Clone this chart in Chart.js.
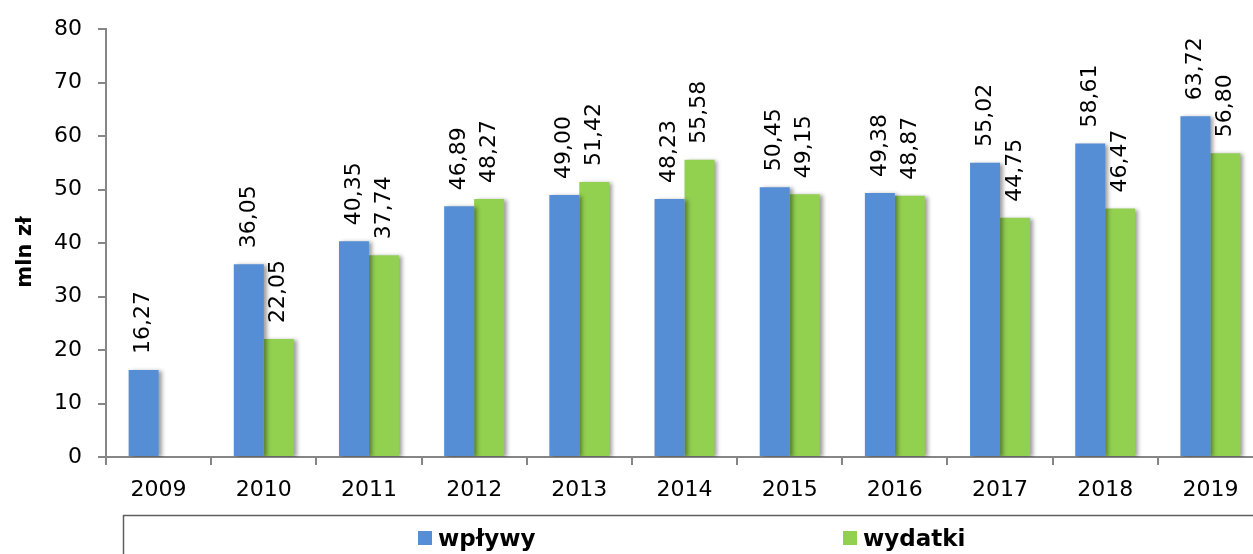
<!DOCTYPE html>
<html>
<head>
<meta charset="utf-8">
<script src="https://cdn.jsdelivr.net/npm/chart.js@4.4.0/dist/chart.umd.min.js"></script>
<style>
  html, body { margin: 0; padding: 0; overflow: hidden; background: #fff; }
  #wrap { width: 1253px; height: 554px; overflow: hidden; }
  canvas { display: block; }
</style>
</head>
<body>
<div id="wrap"><canvas id="c" width="1272" height="554"></canvas></div>
<script>
// Roczne wpływy i wydatki (mln zł)
const years   = ['2009', '2010', '2011', '2012', '2013', '2014', '2015', '2016', '2017', '2018', '2019'];
const wplywy  = [16.27, 36.05, 40.35, 46.89, 49.00, 48.23, 50.45, 49.38, 55.02, 58.61, 63.72];
const wydatki = [null, 22.05, 37.74, 48.27, 51.42, 55.58, 49.15, 48.87, 44.75, 46.47, 56.80];
const seriesNames = ['wpływy', 'wydatki'];
const yMin = 0, yMax = 80, yStep = 10;
const yTitle = 'mln zł';

const FONT = '"DejaVu Sans", Verdana, sans-serif';
const BLUE = '#558ED5';
const GREEN = '#92D050';
const AXIS = '#868686';

const fmt = v => v.toFixed(2).replace('.', ',');

// soft drop shadow behind each bar
const barShadow = {
  id: 'barShadow',
  beforeDatasetDraw(chart) {
    const c = chart.ctx;
    c.save();
    c.shadowColor = 'rgba(0,0,0,0.38)';
    c.shadowBlur = 4;
    c.shadowOffsetX = 3;
    c.shadowOffsetY = 1;
  },
  afterDatasetDraw(chart) { chart.ctx.restore(); }
};

// vertical value labels above the bars
const valueLabels = {
  id: 'valueLabels',
  afterDatasetsDraw(chart) {
    const ctx = chart.ctx;
    chart.data.datasets.forEach((ds, i) => {
      const meta = chart.getDatasetMeta(i);
      meta.data.forEach((bar, j) => {
        const v = ds.data[j];
        if (v == null) return;
        ctx.save();
        ctx.translate(bar.x, bar.y - 16);
        ctx.rotate(-Math.PI / 2);
        ctx.font = '22px ' + FONT;
        ctx.fillStyle = '#000';
        ctx.textAlign = 'left';
        ctx.textBaseline = 'middle';
        ctx.fillText(fmt(v), 0, 0);
        ctx.restore();
      });
    });
  }
};

// rotated value-axis title
const axisTitle = {
  id: 'axisTitle',
  afterDraw(chart) {
    const ctx = chart.ctx;
    ctx.save();
    ctx.translate(25.5, 252);
    ctx.rotate(-Math.PI / 2);
    ctx.font = 'bold 21px ' + FONT;
    ctx.fillStyle = '#000';
    ctx.textAlign = 'center';
    ctx.textBaseline = 'middle';
    ctx.fillText(yTitle, 0, 0);
    ctx.restore();
  }
};

// framed legend along the bottom edge
const boxLegend = {
  id: 'boxLegend',
  afterDraw(chart) {
    const ctx = chart.ctx;
    const top = 515.5, left = 123.5;
    ctx.save();
    ctx.strokeStyle = '#5f5f5f';
    ctx.lineWidth = 1.5;
    ctx.beginPath();
    ctx.moveTo(left, chart.height + 2);
    ctx.lineTo(left, top);
    ctx.lineTo(chart.width + 2, top);
    ctx.stroke();
    const xs = [418, 843];
    ctx.font = 'bold 23px ' + FONT;
    ctx.textBaseline = 'alphabetic';
    ctx.textAlign = 'left';
    chart.data.datasets.forEach((ds, i) => {
      ctx.fillStyle = ds.backgroundColor;
      ctx.fillRect(xs[i], 531, 14, 14);
      ctx.fillStyle = '#000';
      ctx.fillText(ds.label, xs[i] + 20, 546);
    });
    ctx.restore();
  }
};

new Chart(document.getElementById('c'), {
  type: 'bar',
  data: {
    labels: years,
    datasets: [
      { label: seriesNames[0], data: wplywy, backgroundColor: BLUE },
      { label: seriesNames[1], data: wydatki, backgroundColor: GREEN }
    ]
  },
  options: {
    responsive: false,
    animation: false,
    devicePixelRatio: 1,
    datasets: { bar: { categoryPercentage: 0.57, barPercentage: 1.0 } },
    layout: { padding: { left: 0, right: 9, top: 26, bottom: 0 } },
    plugins: {
      legend: { display: false },
      tooltip: { enabled: false }
    },
    scales: {
      x: {
        afterFit(scale) { scale.height = 97; },
        ticks: { color: '#000', font: { family: FONT, size: 22 }, padding: 12, maxRotation: 0 },
        grid: { display: true, drawOnChartArea: false, drawTicks: true, tickLength: 8, color: AXIS, lineWidth: 2, offset: true },
        border: { display: true, color: AXIS, width: 2 }
      },
      y: {
        min: yMin, max: yMax,
        afterFit(scale) { scale.width = 106; },
        ticks: { stepSize: yStep, color: '#000', font: { family: FONT, size: 22 }, padding: 16 },
        grid: { display: true, drawOnChartArea: false, drawTicks: true, tickLength: 8, color: AXIS, lineWidth: 2 },
        border: { display: true, color: AXIS, width: 2 }
      }
    }
  },
  plugins: [barShadow, valueLabels, axisTitle, boxLegend]
});
</script>
</body>
</html>
